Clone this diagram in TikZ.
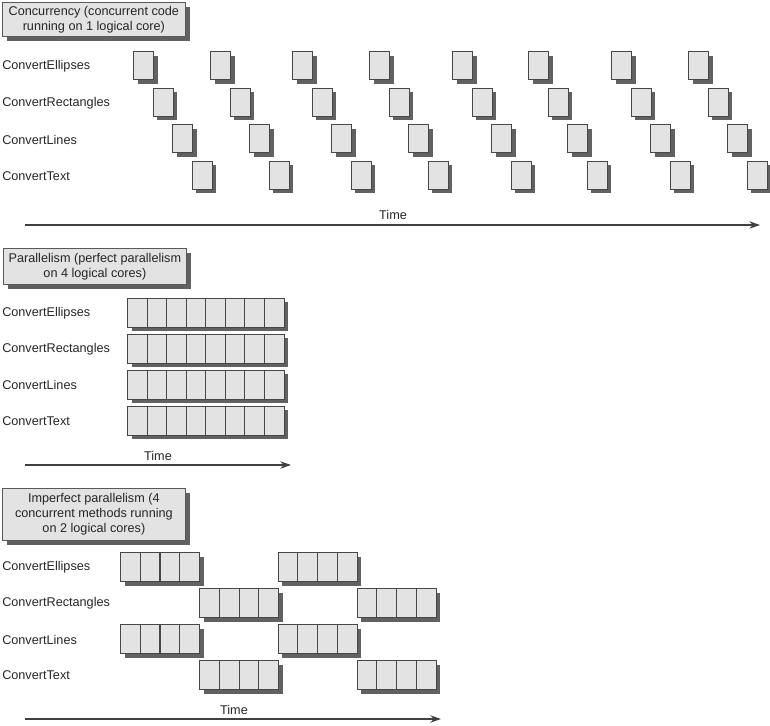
\documentclass[tikz,border=0pt]{standalone}
\usepackage{fontspec}
\setmainfont{Liberation Sans}
\usetikzlibrary{shadows,arrows.meta}
\begin{document}
\begin{tikzpicture}[x=0.75pt,y=-0.75pt,
  txt/.style={font=\fontsize{9.5}{11.3}\selectfont, text=black!85, inner sep=0},
  lbl/.style={txt, anchor=west},
  sh/.style={drop shadow={shadow xshift=3pt, shadow yshift=-3pt, fill=black!62, opacity=1}},
  bigsh/.style={drop shadow={shadow xshift=3.6pt, shadow yshift=-3.6pt, fill=black!62, opacity=1}},
  titlebox/.style={txt, bigsh, draw=black!65, fill=black!11, line width=0.8pt, align=center,
     anchor=north west, minimum width=137pt},
  task/.style={sh, draw=black!72, fill=black!11, line width=0.8pt, inner sep=0,
     minimum width=15pt, minimum height=21pt, anchor=north west},
  bar/.style={sh, draw=black!72, fill=black!11, line width=0.8pt, inner sep=0,
     minimum height=22pt, anchor=north west},
  cell/.style={draw=black!72, fill=black!11, line width=0.8pt, inner sep=0,
     minimum height=22pt, anchor=north west},
  timeline/.style={draw=black!75, line width=0.9pt, -{Stealth[length=8pt,width=5.5pt]}}
]
\useasboundingbox (0,0) rectangle (770,725);

% ---------- Concurrency ----------
\node[titlebox, minimum height=25.5pt] (title1) at (2,2)
  {Concurrency (concurrent code\\running on 1 logical core)};
\foreach \lab [count=\r from 0] in {ConvertEllipses,ConvertRectangles,ConvertLines,ConvertText}
  \node[lbl] (cl\r) at (2,66.5+36.5*\r) {\lab};
\foreach \x [count=\i] in {133,210,292,369,452,528,611,688}
  \foreach \r in {0,...,3}
    \node[task] (c\r-\i) at (\x+19.5*\r,51+36.5*\r) {};
\coordinate (t1s) at (25,225);
\coordinate (t1e) at (760,225);
\draw[timeline] (t1s) -- (t1e);
\node[txt] (time1) at (393,215) {Time};

% ---------- Parallelism ----------
\node[titlebox, minimum height=27pt] (title2) at (3,248)
  {Parallelism (perfect parallelism\\on 4 logical cores)};
\foreach \lab [count=\r from 0] in {ConvertEllipses,ConvertRectangles,ConvertLines,ConvertText}
  \node[lbl] (pl\r) at (2,313+36*\r) {\lab};
\foreach \r in {0,...,3}{
  \node[bar, minimum width=117.4pt] (p\r) at (127,297.5+36*\r) {};
  \foreach \k in {0,...,7}
    \node[cell, minimum width=14.68pt] (p\r-\k) at (127+19.57*\k,297.5+36*\r) {};
}
\coordinate (t2s) at (25,465);
\coordinate (t2e) at (291,465);
\draw[timeline] (t2s) -- (t2e);
\node[txt] (time2) at (158,456) {Time};

% ---------- Imperfect parallelism ----------
\node[titlebox, minimum height=39pt] (title3) at (2,488)
  {Imperfect parallelism (4\\concurrent methods running\\on 2 logical cores)};
\foreach \lab [count=\r from 0] in {ConvertEllipses,ConvertRectangles,ConvertLines,ConvertText}
  \node[lbl] (il\r) at (2,567.5+36*\r) {\lab};
\foreach \r/\xa/\xb in {0/120/277.5, 1/199/356.5, 2/120/277.5, 3/199/356.5}{
  \node[bar, minimum width=59.25pt] (ia\r) at (\xa,552+36*\r) {};
  \node[bar, minimum width=59.25pt] (ib\r) at (\xb,552+36*\r) {};
  \foreach \k in {0,...,3}{
    \node[cell, minimum width=14.81pt] (ia\r-\k) at (\xa+19.75*\k,552+36*\r) {};
    \node[cell, minimum width=14.81pt] (ib\r-\k) at (\xb+19.75*\k,552+36*\r) {};
  }
}
\coordinate (t3s) at (25,719);
\coordinate (t3e) at (441,719);
\draw[timeline] (t3s) -- (t3e);
\node[txt] (time3) at (234,710) {Time};
\end{tikzpicture}
\end{document}
